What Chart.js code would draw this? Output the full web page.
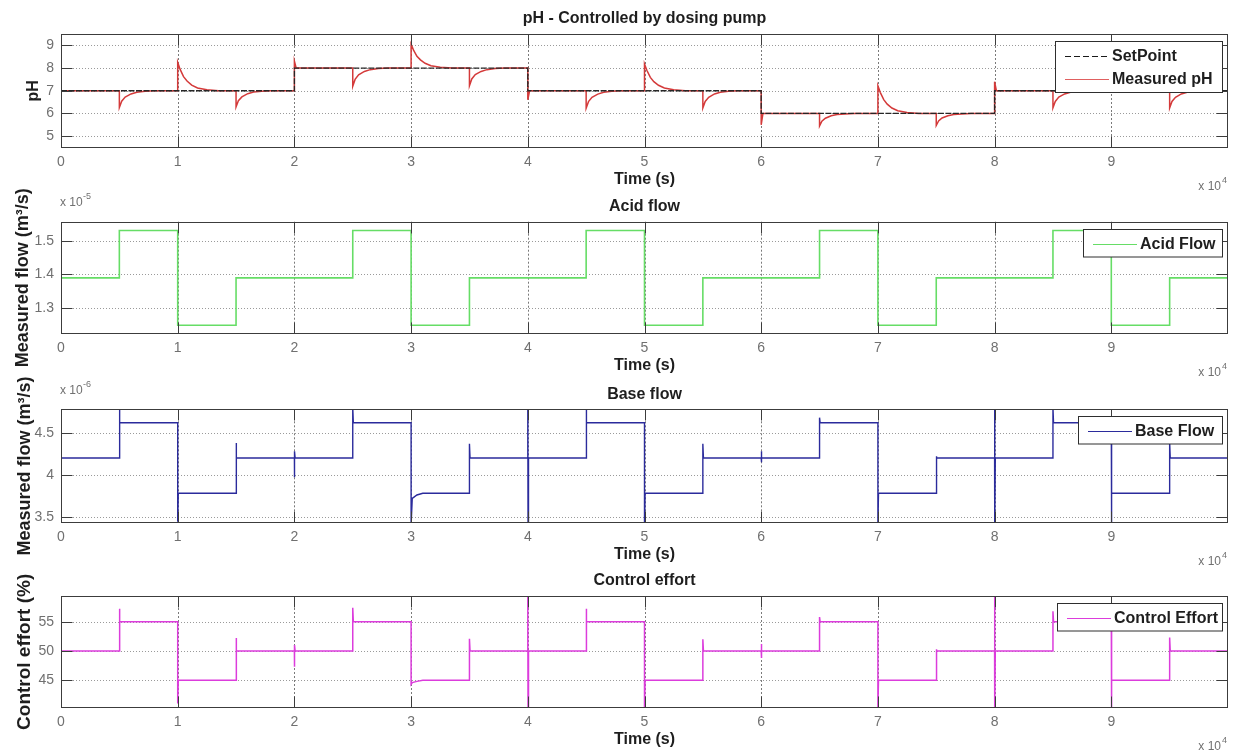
<!DOCTYPE html>
<html>
<head>
<meta charset="utf-8">
<title>pH dosing pump simulation</title>
<script src="https://cdn.jsdelivr.net/npm/chart.js@4.4.1/dist/chart.umd.min.js"></script>
<style>
  html, body { margin: 0; padding: 0; background: #fff; }
  body { position: relative; width: 1234px; height: 755px; overflow: hidden; }
  canvas { position: absolute; left: 0; }
</style>
</head>
<body>
<canvas id="phChart" width="1234" height="200" style="top:0px"></canvas>
<canvas id="acidChart" width="1234" height="197" style="top:188px"></canvas>
<canvas id="baseChart" width="1234" height="197" style="top:375px"></canvas>
<canvas id="effortChart" width="1234" height="190" style="top:565px"></canvas>
<script>
// time axis (s), labelled in units of 10^4
const timeTicks = [0, 10000, 20000, 30000, 40000, 50000, 60000, 70000, 80000, 90000];
const timeTickLabels = ["0", "1", "2", "3", "4", "5", "6", "7", "8", "9"];

const phTicks = [5, 6, 7, 8, 9];
const phTickLabels = ["5", "6", "7", "8", "9"];
const acidTicks = [1.3e-5, 1.4e-5, 1.5e-5];
const acidTickLabels = ["1.3", "1.4", "1.5"];
const baseTicks = [3.5e-6, 4.0e-6, 4.5e-6];
const baseTickLabels = ["3.5", "4", "4.5"];
const effortTicks = [45, 50, 55];
const effortTickLabels = ["45", "50", "55"];

// [time (s), pH]
const setPoint = [
  [0, 7], [20000, 7], [20000, 8], [40000, 8], [40000, 7],
  [60000, 7], [60000, 6], [80000, 6], [80000, 7], [100000, 7],
];

const measuredPh = [
  [0, 7.0], [5000, 7.0],
  [5000, 6.26], [5200, 6.54], [5500, 6.72], [6000, 6.86], [6500, 6.93], [7200, 6.98], [8000, 7.0],
  [10000, 7.0],
  [10000, 8.25], [10200, 7.95], [10500, 7.62], [10800, 7.43], [11200, 7.25], [11700, 7.12], [12500, 7.04], [13500, 7.0],
  [15000, 7.0],
  [15000, 6.29], [15200, 6.56], [15500, 6.73], [16000, 6.87], [16500, 6.94], [17200, 6.98], [18000, 7.0],
  [20000, 7.0],
  [20000, 8.3], [20150, 8.0],
  [25000, 8.0],
  [25000, 7.2], [25200, 7.5], [25500, 7.7], [26000, 7.85], [26500, 7.93], [27200, 7.98], [28000, 8.0],
  [30000, 8.0],
  [30000, 9.05], [30200, 8.8], [30500, 8.52], [30800, 8.36], [31200, 8.21], [31700, 8.1], [32500, 8.04], [33500, 8.0],
  [35000, 8.0],
  [35000, 7.22], [35200, 7.52], [35500, 7.71], [36000, 7.85], [36500, 7.93], [37200, 7.98], [38000, 8.0],
  [40000, 8.0],
  [40000, 6.6], [40150, 7.0],
  [45000, 7.0],
  [45000, 6.23], [45200, 6.52], [45500, 6.71], [46000, 6.85], [46500, 6.93], [47200, 6.98], [48000, 7.0],
  [50000, 7.0],
  [50000, 8.18], [50200, 7.9], [50500, 7.59], [50800, 7.4], [51200, 7.24], [51700, 7.12], [52500, 7.04], [53500, 7.0],
  [55000, 7.0],
  [55000, 6.24], [55200, 6.53], [55500, 6.71], [56000, 6.86], [56500, 6.93], [57200, 6.98], [58000, 7.0],
  [60000, 7.0],
  [60000, 5.5], [60150, 6.0],
  [65000, 6.0],
  [65000, 5.45], [65200, 5.66], [65500, 5.79], [66000, 5.9], [66500, 5.95], [67200, 5.98], [68000, 6.0],
  [70000, 6.0],
  [70000, 7.22], [70200, 6.93], [70500, 6.61], [70800, 6.41], [71200, 6.24], [71700, 6.12], [72500, 6.04], [73500, 6.0],
  [75000, 6.0],
  [75000, 5.47], [75200, 5.67], [75500, 5.8], [76000, 5.9], [76500, 5.95], [77200, 5.98], [78000, 6.0],
  [80000, 6.0],
  [80000, 7.4], [80150, 7.0],
  [85000, 7.0],
  [85000, 6.25], [85200, 6.53], [85500, 6.72], [86000, 6.86], [86500, 6.93], [87200, 6.98], [88000, 7.0],
  [90000, 7.0],
  [90000, 8.2], [90200, 7.91], [90500, 7.6], [90800, 7.41], [91200, 7.24], [91700, 7.12], [92500, 7.04], [93500, 7.0],
  [95000, 7.0],
  [95000, 6.24], [95200, 6.53], [95500, 6.71], [96000, 6.86], [96500, 6.93], [97200, 6.98], [98000, 7.0],
  [100000, 7.0],
];

// [time (s), m^3/s]
const acidFlow = [
  [0, 1.39e-5], [5000, 1.39e-5], [5000, 1.53e-5], [10000, 1.53e-5], [10000, 1.25e-5], [15000, 1.25e-5],
  [15000, 1.39e-5], [25000, 1.39e-5], [25000, 1.53e-5], [30000, 1.53e-5], [30000, 1.25e-5], [35000, 1.25e-5],
  [35000, 1.39e-5], [45000, 1.39e-5], [45000, 1.53e-5], [50000, 1.53e-5], [50000, 1.25e-5], [55000, 1.25e-5],
  [55000, 1.39e-5], [65000, 1.39e-5], [65000, 1.53e-5], [70000, 1.53e-5], [70000, 1.25e-5], [75000, 1.25e-5],
  [75000, 1.39e-5], [85000, 1.39e-5], [85000, 1.53e-5], [90000, 1.53e-5], [90000, 1.25e-5], [95000, 1.25e-5],
  [95000, 1.39e-5], [100000, 1.39e-5],
];

const baseFlow = [
  [0, 4.2e-6], [5000, 4.2e-6], [5000, 4.8e-6], [5050, 4.62e-6], [10000, 4.62e-6],
  [10000, 3.44e-6], [10050, 3.78e-6], [15000, 3.78e-6],
  [15000, 4.38e-6], [15050, 4.2e-6], [20000, 4.2e-6],
  [20000, 3.97e-6], [20020, 4.28e-6], [20060, 4.2e-6], [25000, 4.2e-6],
  [25000, 4.8e-6], [25050, 4.62e-6], [30000, 4.62e-6],
  [30000, 3.4e-6], [30100, 3.72e-6], [30500, 3.76e-6], [31000, 3.78e-6], [35000, 3.78e-6],
  [35000, 4.37e-6], [35050, 4.2e-6], [40000, 4.2e-6],
  [40000, 4.9e-6], [40020, 3.38e-6], [40060, 4.2e-6], [45000, 4.2e-6],
  [45000, 4.8e-6], [45050, 4.62e-6], [50000, 4.62e-6],
  [50000, 3.38e-6], [50050, 3.78e-6], [55000, 3.78e-6],
  [55000, 4.37e-6], [55050, 4.2e-6], [60000, 4.2e-6],
  [60000, 4.15e-6], [60020, 4.28e-6], [60060, 4.2e-6], [65000, 4.2e-6],
  [65000, 4.68e-6], [65050, 4.62e-6], [70000, 4.62e-6],
  [70000, 3.38e-6], [70050, 3.78e-6], [75000, 3.78e-6],
  [75000, 4.22e-6], [75050, 4.2e-6], [80000, 4.2e-6],
  [80000, 4.9e-6], [80020, 3.38e-6], [80060, 4.2e-6], [85000, 4.2e-6],
  [85000, 4.8e-6], [85050, 4.62e-6], [90000, 4.62e-6],
  [90000, 3.38e-6], [90050, 3.78e-6], [95000, 3.78e-6],
  [95000, 4.39e-6], [95050, 4.2e-6], [100000, 4.2e-6],
];

// [time (s), %]
const controlEffort = [
  [0, 50], [5000, 50], [5000, 57.2], [5050, 55], [10000, 55],
  [10000, 41], [10050, 45], [15000, 45],
  [15000, 52.2], [15050, 50], [20000, 50],
  [20000, 47.3], [20020, 51], [20060, 50], [25000, 50],
  [25000, 57.4], [25050, 55], [30000, 55],
  [30000, 44.3], [30100, 44.6], [30500, 44.8], [31000, 45], [35000, 45],
  [35000, 52.1], [35050, 50], [40000, 50],
  [40000, 59.5], [40020, 40.2], [40060, 50], [45000, 50],
  [45000, 57.2], [45050, 55], [50000, 55],
  [50000, 40.2], [50050, 45], [55000, 45],
  [55000, 52.0], [55050, 50], [60000, 50],
  [60000, 48.8], [60020, 51.2], [60060, 50], [65000, 50],
  [65000, 55.8], [65050, 55], [70000, 55],
  [70000, 40.2], [70050, 45], [75000, 45],
  [75000, 50.3], [75050, 50], [80000, 50],
  [80000, 59.5], [80020, 40.2], [80060, 50], [85000, 50],
  [85000, 56.8], [85050, 55], [90000, 55],
  [90000, 40.2], [90050, 45], [95000, 45],
  [95000, 52.3], [95050, 50], [100000, 50],
];

const FONT = '"Liberation Sans", Arial, Helvetica, sans-serif';
const TEXT_COLOR = "#1e1e1e";
const TICK_TEXT = "#707070";

const toPoints = (pairs) => pairs.map(([t, v]) => ({ x: t, y: v }));

const lineSet = (label, pairs, color, width, dash, order) => ({
  label,
  data: toPoints(pairs),
  borderColor: color,
  borderWidth: width,
  borderDash: dash || [],
  pointRadius: 0,
  tension: 0,
  fill: false,
  order,
});

// axes box, dotted grid, inward ticks, legend box and labels drawn MATLAB style
const makeAxesPlugin = (panel) => ({
  id: "matlabAxes",
  beforeDatasetsDraw(chart) {
    const { ctx, chartArea: a, scales } = chart;
    ctx.save();
    ctx.lineWidth = 1;
    ctx.setLineDash([2, 2]);
    ctx.strokeStyle = "#7a7a7a";
    timeTicks.forEach((t) => {
      if (t === 0) return;
      const px = Math.round(scales.x.getPixelForValue(t)) + 0.5;
      ctx.beginPath();
      ctx.moveTo(px, a.top);
      ctx.lineTo(px, a.bottom);
      ctx.stroke();
    });
    ctx.setLineDash([1, 2]);
    ctx.strokeStyle = "#9a9a9a";
    panel.yTicks.forEach((v) => {
      const py = Math.round(scales.y.getPixelForValue(v)) + 0.5;
      ctx.beginPath();
      ctx.moveTo(a.left, py);
      ctx.lineTo(a.right, py);
      ctx.stroke();
    });
    ctx.restore();
  },
  afterDatasetsDraw(chart) {
    const { ctx, chartArea: a, scales } = chart;
    const left = Math.round(a.left) + 0.5;
    const right = Math.round(a.right) - 0.5;
    const top = Math.round(a.top) + 0.5;
    const bottom = Math.round(a.bottom) - 0.5;
    const tickLen = 11;
    ctx.save();
    ctx.lineWidth = 1;
    ctx.strokeStyle = "#3c3c3c";
    ctx.strokeRect(left, top, right - left, bottom - top);
    ctx.beginPath();
    timeTicks.forEach((t) => {
      const px = Math.round(scales.x.getPixelForValue(t)) + 0.5;
      ctx.moveTo(px, top);
      ctx.lineTo(px, top + tickLen);
      ctx.moveTo(px, bottom);
      ctx.lineTo(px, bottom - tickLen);
    });
    panel.yTicks.forEach((v) => {
      const py = Math.round(scales.y.getPixelForValue(v)) + 0.5;
      ctx.moveTo(left, py);
      ctx.lineTo(left + tickLen, py);
      ctx.moveTo(right, py);
      ctx.lineTo(right - tickLen, py);
    });
    ctx.stroke();

    // legend
    const lg = panel.legend;
    const boxTop = Math.round(a.top + 7) + 0.5;
    const boxH = 4 + lg.entries.length * 23.5;
    const boxRight = right - 5;
    ctx.fillStyle = "#fff";
    ctx.fillRect(lg.left, boxTop, boxRight - lg.left, boxH);
    ctx.strokeStyle = "#2e2e2e";
    ctx.strokeRect(lg.left + 0.5, boxTop, boxRight - lg.left - 0.5, boxH);
    ctx.font = "bold 16px " + FONT;
    ctx.textBaseline = "middle";
    ctx.textAlign = "left";
    lg.entries.forEach((entry, i) => {
      const cy = Math.round(boxTop + 14 + i * 23.5);
      ctx.strokeStyle = entry.color;
      ctx.lineWidth = 1.2;
      ctx.setLineDash(entry.dash || []);
      ctx.beginPath();
      ctx.moveTo(lg.left + 10, cy + 0.5);
      ctx.lineTo(lg.left + 54, cy + 0.5);
      ctx.stroke();
      ctx.setLineDash([]);
      ctx.fillStyle = TEXT_COLOR;
      ctx.fillText(entry.label, lg.left + 57, cy + 1);
    });
    ctx.restore();
  },
  afterDraw(chart) {
    const { ctx, chartArea: a } = chart;
    const cx = (a.left + a.right) / 2;
    ctx.save();
    ctx.fillStyle = TEXT_COLOR;
    ctx.textBaseline = "middle";
    ctx.textAlign = "center";
    ctx.font = "bold 16px " + FONT;
    ctx.fillText(panel.title, cx, a.top - 15);
    ctx.fillText("Time (s)", cx, a.bottom + 32);

    // y label
    ctx.save();
    ctx.translate(panel.yLabelX, (a.top + a.bottom) / 2);
    ctx.rotate(-Math.PI / 2);
    ctx.font = "bold " + panel.yLabelSize + "px " + FONT;
    ctx.fillText(panel.yLabel, 0, 0);
    ctx.restore();

    // axis multipliers
    ctx.fillStyle = TICK_TEXT;
    ctx.font = "12px " + FONT;
    ctx.textAlign = "right";
    ctx.fillText("x 10", a.right - 7, a.bottom + 39);
    ctx.font = "9px " + FONT;
    ctx.textAlign = "left";
    ctx.fillText("4", a.right - 6, a.bottom + 33);
    if (panel.exponent) {
      ctx.font = "12px " + FONT;
      ctx.fillText("x 10", a.left - 1, a.top - 19);
      ctx.font = "9px " + FONT;
      ctx.fillText(panel.exponent, a.left + 22, a.top - 25);
    }
    ctx.restore();
  },
});

const panels = [
  {
    id: "phChart", top: 0, height: 200, plotTop: 34, plotBottom: 147.5,
    yMin: 4.5, yMax: 9.5, yTicks: phTicks, yTickLabels: phTickLabels,
    title: "pH - Controlled by dosing pump", yLabel: "pH", yLabelSize: 16, yLabelX: 34, exponent: null,
    datasets: [
      lineSet("SetPoint", setPoint, "#262626", 1.3, [6, 1.5], 0),
      lineSet("Measured pH", measuredPh, "#d43a3a", 1.5, null, 1),
    ],
    legend: {
      left: 1055,
      entries: [
        { label: "SetPoint", color: "#1a1a1a", dash: [6, 3] },
        { label: "Measured pH", color: "#e06060" },
      ],
    },
  },
  {
    id: "acidChart", top: 188, height: 197, plotTop: 221.7, plotBottom: 334,
    yMin: 1.224e-5, yMax: 1.556e-5, yTicks: acidTicks, yTickLabels: acidTickLabels,
    title: "Acid flow", yLabel: "Measured flow (m\u00b3/s)", yLabelSize: 18, yLabelX: 23, exponent: "-5",
    datasets: [lineSet("Acid Flow", acidFlow, "#66dd66", 1.6, null, 0)],
    legend: { left: 1083, entries: [{ label: "Acid Flow", color: "#66dd66" }] },
  },
  {
    id: "baseChart", top: 375, height: 197, plotTop: 409.3, plotBottom: 522.7,
    yMin: 3.43e-6, yMax: 4.78e-6, yTicks: baseTicks, yTickLabels: baseTickLabels,
    title: "Base flow", yLabel: "Measured flow (m\u00b3/s)", yLabelSize: 18, yLabelX: 25, exponent: "-6",
    datasets: [lineSet("Base Flow", baseFlow, "#2b2b9c", 1.4, null, 0)],
    legend: { left: 1078, entries: [{ label: "Base Flow", color: "#2b2b9c" }] },
  },
  {
    id: "effortChart", top: 565, height: 190, plotTop: 596, plotBottom: 707.7,
    yMin: 40.3, yMax: 59.4, yTicks: effortTicks, yTickLabels: effortTickLabels,
    title: "Control effort", yLabel: "Control effort (%)", yLabelSize: 19, yLabelX: 25, exponent: null,
    datasets: [lineSet("Control Effort", controlEffort, "#dc3cdc", 1.5, null, 0)],
    legend: { left: 1057, entries: [{ label: "Control Effort", color: "#dc3cdc" }] },
  },
];

panels.forEach((panel) => {
  const ctx = document.getElementById(panel.id);
  new Chart(ctx, {
    type: "line",
    data: { datasets: panel.datasets },
    options: {
      responsive: false,
      animation: false,
      events: [],
      layout: { padding: { top: panel.plotTop - panel.top, right: 6, left: 0, bottom: 0 } },
      plugins: { legend: { display: false }, tooltip: { enabled: false }, title: { display: false } },
      scales: {
        x: {
          type: "linear",
          min: 0,
          max: 100000,
          grid: { display: false, drawTicks: false },
          border: { display: false },
          afterBuildTicks(axis) {
            axis.ticks = timeTicks.map((v) => ({ value: v }));
          },
          afterFit(axis) {
            axis.height = panel.height - (panel.plotBottom - panel.top);
          },
          ticks: {
            autoSkip: false,
            maxRotation: 0,
            padding: 6,
            color: TICK_TEXT,
            font: { family: FONT, size: 14 },
            callback(value) {
              return timeTickLabels[timeTicks.indexOf(value)];
            },
          },
        },
        y: {
          type: "linear",
          min: panel.yMin,
          max: panel.yMax,
          grid: { display: false, drawTicks: false },
          border: { display: false },
          afterBuildTicks(axis) {
            axis.ticks = panel.yTicks.map((v) => ({ value: v }));
          },
          afterFit(axis) {
            axis.width = 61;
          },
          ticks: {
            autoSkip: false,
            padding: 7,
            color: TICK_TEXT,
            font: { family: FONT, size: 14 },
            callback(value) {
              return panel.yTickLabels[panel.yTicks.indexOf(value)];
            },
          },
        },
      },
    },
    plugins: [makeAxesPlugin(panel)],
  });
});
</script>
</body>
</html>
